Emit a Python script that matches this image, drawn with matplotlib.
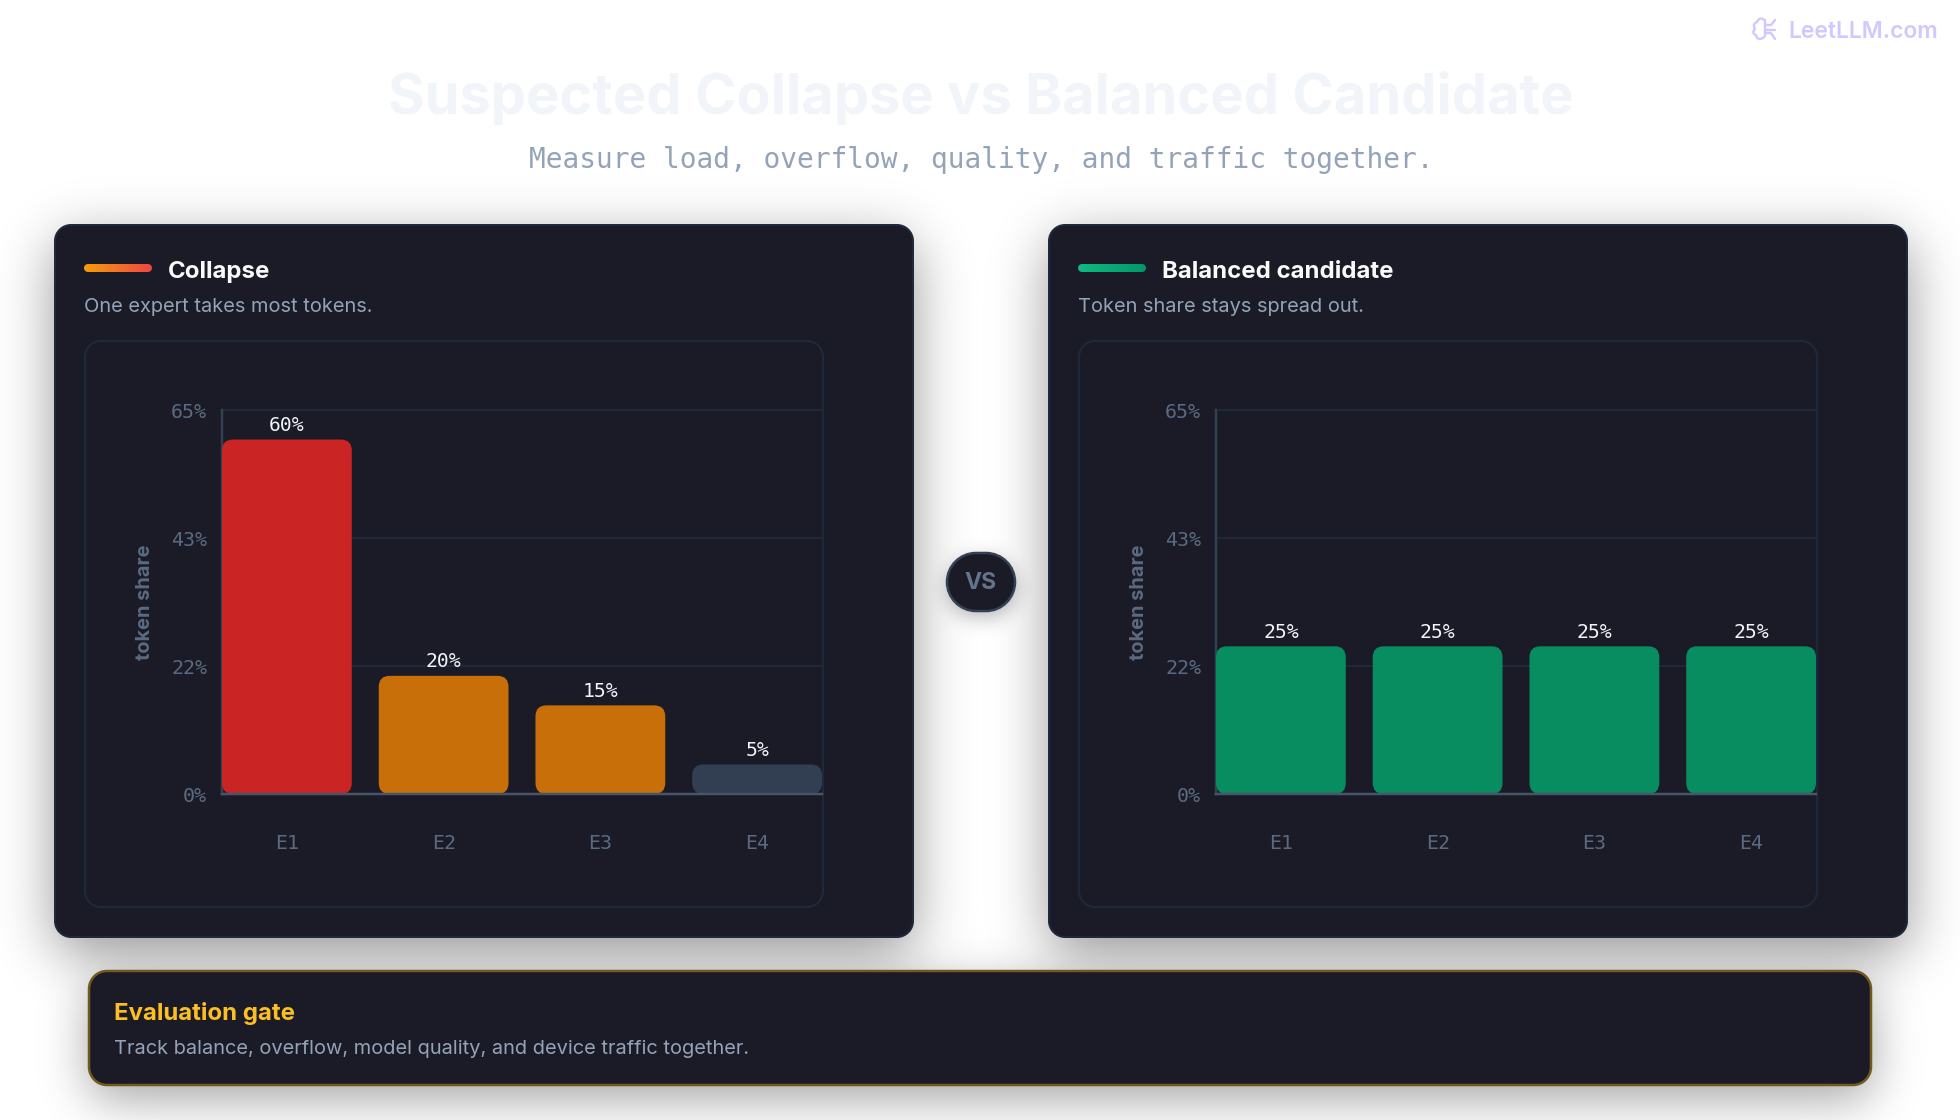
import numpy as np
import matplotlib
matplotlib.use("Agg")
import matplotlib.pyplot as plt
from matplotlib.patches import FancyBboxPatch, BoxStyle
from matplotlib.path import Path
from matplotlib.patches import PathPatch
from matplotlib.colors import LinearSegmentedColormap

# Chart data
experts = ["E1", "E2", "E3", "E4"]
collapse_share = [60, 20, 15, 5]
balanced_share = [25, 25, 25, 25]
collapse_colors = ["#cb2424", "#c96f09", "#c96f09", "#323f52"]
balanced_colors = ["#088d61", "#088d61", "#088d61", "#088d61"]
tick_values = [0, 65 / 3, 130 / 3, 65]
tick_labels = ["0%", "22%", "43%", "65%"]

W, H = 1960, 1120
CARD = "#1a1b26"
EDGE = "#1e293b"
SANS = "Inter"
MONO = "DejaVu Sans Mono"


def px(size):
    return size * 0.72


def rounded_mask(x0, y0, x1, y1, r):
    yy, xx = np.mgrid[0:H, 0:W]
    cx, cy = (x0 + x1) / 2, (y0 + y1) / 2
    qx = np.abs(xx + 0.5 - cx) - ((x1 - x0) / 2 - r)
    qy = np.abs(yy + 0.5 - cy) - ((y1 - y0) / 2 - r)
    d = np.hypot(np.maximum(qx, 0), np.maximum(qy, 0)) + np.minimum(np.maximum(qx, qy), 0) - r
    return np.clip(0.5 - d, 0, 1)


def blur(mask, sigma):
    pad = int(sigma * 4)
    padded = np.pad(mask, pad)
    ny, nx = padded.shape
    fy = np.fft.fftfreq(ny)[:, None]
    fx = np.fft.rfftfreq(nx)[None, :]
    kernel = np.exp(-2 * (np.pi * sigma) ** 2 * (fx ** 2 + fy ** 2))
    out = np.fft.irfft2(np.fft.rfft2(padded) * kernel, s=padded.shape)
    return out[pad:-pad, pad:-pad]


def shadow(bg, box, r, sigma, dy, alpha, zorder):
    x0, y0, x1, y1 = box
    m = blur(rounded_mask(x0, y0 + dy, x1, y1 + dy, r), sigma) * alpha
    img = np.zeros((H, W, 4))
    img[..., 3] = np.clip(m, 0, 1)
    bg.imshow(img, extent=(0, W, H, 0), zorder=zorder, interpolation="nearest", aspect="auto")


def round_rect_path(x0, y0, x1, y1, r):
    # Circular corners built from cubic segments
    k = r * (1 - 0.5523)
    verts = [
        (x0 + r, y0), (x1 - r, y0),
        (x1 - k, y0), (x1, y0 + k), (x1, y0 + r),
        (x1, y1 - r),
        (x1, y1 - k), (x1 - k, y1), (x1 - r, y1),
        (x0 + r, y1),
        (x0 + k, y1), (x0, y1 - k), (x0, y1 - r),
        (x0, y0 + r),
        (x0, y0 + k), (x0 + k, y0), (x0 + r, y0),
        (x0 + r, y0),
    ]
    codes = [Path.MOVETO, Path.LINETO,
             Path.CURVE4, Path.CURVE4, Path.CURVE4,
             Path.LINETO,
             Path.CURVE4, Path.CURVE4, Path.CURVE4,
             Path.LINETO,
             Path.CURVE4, Path.CURVE4, Path.CURVE4,
             Path.LINETO,
             Path.CURVE4, Path.CURVE4, Path.CURVE4,
             Path.CLOSEPOLY]
    return Path(verts, codes)


def rbox(bg, x0, y0, x1, y1, r, face, edge, lw, zorder):
    p = PathPatch(round_rect_path(x0, y0, x1, y1, r), facecolor=face, edgecolor=edge,
                  linewidth=px(lw), zorder=zorder)
    bg.add_patch(p)
    return p


def gradient_bar(bg, x0, y0, x1, y1, c0, c1, zorder):
    cmap = LinearSegmentedColormap.from_list("accent", [c0, c1])
    im = bg.imshow(np.linspace(0, 1, 256)[None, :], extent=(x0, x1, y1, y0), cmap=cmap,
                   zorder=zorder, aspect="auto")
    clip = PathPatch(round_rect_path(x0, y0, x1, y1, (y1 - y0) / 2),
                     facecolor="none", edgecolor="none", transform=bg.transData)
    bg.add_patch(clip)
    im.set_clip_path(clip)


def bar_chart(fig, left, values, colors):
    top, bottom, width = 410, 794, 600
    ax = fig.add_axes([left / W, 1 - bottom / H, width / W, (bottom - top) / H], zorder=2)
    ax.patch.set_alpha(0)
    step, bar_w = 157, 130
    half = 0.5 * bar_w / step
    ax.set_xlim(-half, len(values) - 1 + half)
    ax.set_ylim(0, 65)
    sx = width / (len(values) - 1 + 2 * half)
    sy = (bottom - top) / 65
    w = bar_w / step
    for i, (v, c) in enumerate(zip(values, colors)):
        ax.add_patch(FancyBboxPatch((i - w / 2, 0), w, v,
                                    boxstyle=BoxStyle.Round(pad=0, rounding_size=11 / sx),
                                    mutation_aspect=sx / sy,
                                    facecolor=c, edgecolor="none", zorder=3))
        ax.annotate(f"{v}%", (i, v), xytext=(0, px(14)), textcoords="offset points",
                    ha="center", va="center", color="#f1f5f9",
                    fontsize=px(19.8), family=MONO, zorder=4)
    ax.set_yticks(tick_values, tick_labels)
    ax.set_xticks(range(len(experts)), experts)
    ax.tick_params(axis="y", length=0, pad=px(15), colors="#5b6a80", labelsize=px(20))
    ax.tick_params(axis="x", length=0, pad=px(40), colors="#5b6a80", labelsize=px(20))
    for lab in ax.get_xticklabels() + ax.get_yticklabels():
        lab.set_family(MONO)
    ax.grid(axis="y", color="#1e293b", linewidth=px(2), zorder=1, clip_on=False)
    ax.set_axisbelow(True)
    for side in ("top", "right"):
        ax.spines[side].set_visible(False)
    ax.spines["left"].set_color("#334155")
    ax.spines["bottom"].set_color("#475569")
    ax.spines["left"].set_linewidth(px(2.5))
    ax.spines["bottom"].set_linewidth(px(2.5))
    ax.spines["bottom"].set_zorder(5)
    ax.set_ylabel("token share", color="#5b6a80", fontsize=px(20), family=SANS, weight="bold")
    ax.yaxis.set_label_coords(-77 / width, 0.5)
    ax.yaxis.label.set_va("center")
    return ax


fig = plt.figure(figsize=(W / 100, H / 100), dpi=100, facecolor="white")
bg = fig.add_axes([0, 0, 1, 1], zorder=0)
bg.set_xlim(0, W)
bg.set_ylim(H, 0)
bg.axis("off")

# Header
bg.text(W / 2 + 1, 98, "Suspected Collapse vs Balanced Candidate", ha="center", va="center",
        color="#f1f5f9", fontsize=px(56), family=SANS, weight="bold")
bg.text(W / 2 + 1, 160.5, "Measure load, overflow, quality, and traffic together.", ha="center",
        va="center", color="#94a3b8", fontsize=px(27.9), family=MONO)

# Watermark with a small brain outline
bg.text(1788, 32, "LeetLLM.com", ha="left", va="center", color="#d2c8ff",
        fontsize=px(22.8), family=SANS, weight="semibold")
brain = Path(
    [(1764, 20), (1760, 16), (1757, 22), (1752, 24), (1755, 29), (1751, 33), (1756, 35),
     (1757, 41), (1763, 38), (1765, 36), (1765, 20),
     (1765, 25), (1771, 25), (1775, 20), (1765, 30), (1775, 30), (1765, 33), (1771, 33), (1775, 39)],
    [Path.MOVETO, Path.CURVE3, Path.CURVE3, Path.CURVE3, Path.CURVE3, Path.CURVE3, Path.CURVE3,
     Path.CURVE3, Path.CURVE3, Path.LINETO, Path.LINETO,
     Path.MOVETO, Path.LINETO, Path.LINETO, Path.MOVETO, Path.LINETO, Path.MOVETO, Path.LINETO, Path.LINETO])
bg.add_patch(PathPatch(brain, facecolor="none", edgecolor="#d2c8ff", linewidth=px(2.4),
                       capstyle="round", joinstyle="round", zorder=1))

# Shadows go underneath every card
card_boxes = [(55, 225, 913, 937), (1049, 225, 1907, 937)]
gate_box = (89, 971, 1871, 1085)
pill_box = (947, 553, 1015, 611)
for box in card_boxes:
    shadow(bg, box, 16, 28, 16, 0.42, 1)
shadow(bg, gate_box, 18, 24, 14, 0.36, 1)
shadow(bg, pill_box, 29, 10, 6, 0.3, 1)

panels = [
    (0, "Collapse", "One expert takes most tokens.", "#f59e0b", "#ef4444", collapse_share, collapse_colors),
    (994, "Balanced candidate", "Token share stays spread out.", "#10b981", "#059669", balanced_share, balanced_colors),
]
for (off, title, sub, c0, c1, values, colors), box in zip(panels, card_boxes):
    rbox(bg, *box, 16, CARD, EDGE, 2, 1.5)
    rbox(bg, 85 + off, 341, 823 + off, 907, 16, CARD, EDGE, 2, 1.6)
    gradient_bar(bg, 84 + off, 264, 152 + off, 272, c0, c1, 1.7)
    bg.text(168 + off, 272, title, ha="left", va="center", color="#f8fafc",
            fontsize=px(24), family=SANS, weight="bold", zorder=1.8)
    bg.text(84 + off, 307.5, sub, ha="left", va="center", color="#94a3b8",
            fontsize=px(20), family=SANS, zorder=1.8)
    bar_chart(fig, 222 + off, values, colors)

# Centre badge
rbox(bg, *pill_box, 29, CARD, "#334155", 2.5, 1.5)
bg.text(981, 583, "VS", ha="center", va="center", color="#64748b",
        fontsize=px(23), family=SANS, weight="bold", zorder=1.8)

# Footer callout
rbox(bg, *gate_box, 18, CARD, "#74591f", 2.5, 1.5)
bg.text(114, 1013.5, "Evaluation gate", ha="left", va="center", color="#fbbf24",
        fontsize=px(24), family=SANS, weight="bold", zorder=1.8)
bg.text(114, 1048.5, "Track balance, overflow, model quality, and device traffic together.",
        ha="left", va="center", color="#94a3b8", fontsize=px(20), family=SANS, zorder=1.8)

bg.set_xlim(0, W)
bg.set_ylim(H, 0)
fig.savefig("out.png", dpi=100, facecolor="white")
